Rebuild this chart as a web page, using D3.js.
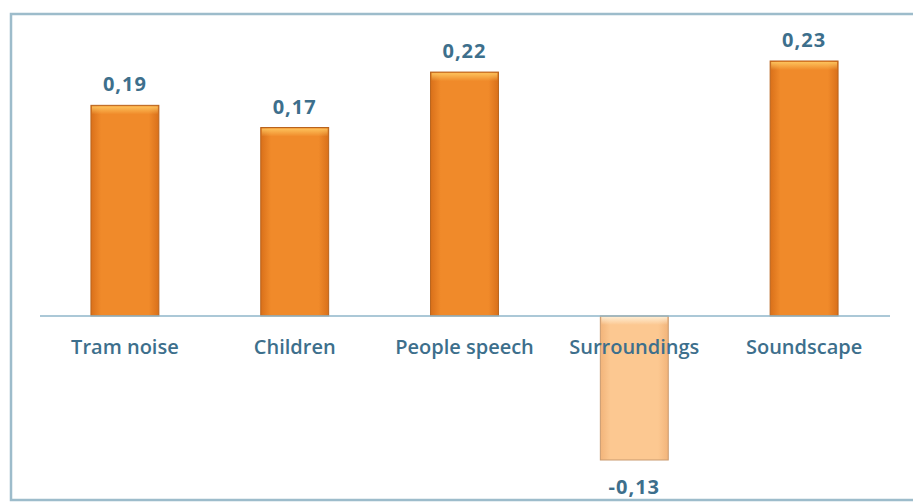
<!DOCTYPE html>
<html><head><meta charset="utf-8">
<script src="https://cdn.jsdelivr.net/npm/d3@7"></script>
<style>body{margin:0;background:#fff;}svg{display:block;}</style>
</head><body>
<svg id="c" width="913" height="502"></svg>
<script>
const categories = ["Tram noise", "Children", "People speech", "Surroundings", "Soundscape"];
const values = [0.19, 0.17, 0.22, -0.13, 0.23];
const valueLabels = ["0,19", "0,17", "0,22", "-0,13", "0,23"];

const svg = d3.select("#c");
const defs = svg.append("defs");
function grad(id, edge, mid) {
  const g = defs.append("linearGradient").attr("id", id).attr("x1", "0").attr("x2", "1").attr("y1", "0").attr("y2", "0");
  g.append("stop").attr("offset", "0%").attr("stop-color", edge);
  g.append("stop").attr("offset", "15%").attr("stop-color", mid);
  g.append("stop").attr("offset", "85%").attr("stop-color", mid);
  g.append("stop").attr("offset", "100%").attr("stop-color", edge);
}
grad("gPos", "#d9701a", "#f08a2a");
grad("gNeg", "#f2b47a", "#fcc891");
function vgrad(id, c) {
  const g = defs.append("linearGradient").attr("id", id).attr("x1", "0").attr("x2", "0").attr("y1", "0").attr("y2", "1");
  g.append("stop").attr("offset", "0%").attr("stop-color", c).attr("stop-opacity", 0.9);
  g.append("stop").attr("offset", "100%").attr("stop-color", c).attr("stop-opacity", 0);
}
vgrad("hPos", "#ffc861");
vgrad("hNeg", "#fff0d8");

// frame
svg.append("rect").attr("x", 11).attr("y", 14).attr("width", 930).attr("height", 486)
  .attr("fill", "none").attr("stroke", "#9dbccb").attr("stroke-width", 2.5);

const x = d3.scaleBand().domain(categories).range([40, 889]).paddingInner(0.6).paddingOuter(0.3);
const y = d3.scaleLinear().domain([-0.13, 0.23]).range([460, 61]);

const g = svg.append("g");
g.selectAll("rect.bar").data(values).join("rect").attr("class", "bar")
  .attr("x", (d, i) => x(categories[i]))
  .attr("width", x.bandwidth())
  .attr("y", d => Math.min(y(d), y(0)))
  .attr("height", d => Math.abs(y(d) - y(0)))
  .attr("fill", d => d < 0 ? "url(#gNeg)" : "url(#gPos)")
  .attr("stroke", d => d < 0 ? "#c99a6e" : "#b8631c")
  .attr("stroke-width", 1);

g.selectAll("rect.hl").data(values).join("rect").attr("class", "hl")
  .attr("x", (d, i) => x(categories[i]) + 1)
  .attr("width", x.bandwidth() - 2)
  .attr("y", d => d < 0 ? y(0) + 1 : y(d) + 1)
  .attr("height", 8)
  .attr("fill", d => d < 0 ? "url(#hNeg)" : "url(#hPos)");

// zero line
svg.append("line").attr("x1", 40).attr("x2", 890).attr("y1", y(0)).attr("y2", y(0))
  .attr("stroke", "#8fb6ca").attr("stroke-width", 1.5);

const font = "'Open Sans', 'Noto Sans', sans-serif";
svg.selectAll("text.cat").data(categories).join("text").attr("class", "cat")
  .attr("x", d => x(d) + x.bandwidth() / 2)
  .attr("y", 354)
  .attr("text-anchor", "middle")
  .attr("font-family", font).attr("font-size", 20).attr("font-weight", 600)
  .attr("fill", "#3d6f8c")
  .text(d => d);

svg.selectAll("text.val").data(values).join("text").attr("class", "val")
  .attr("x", (d, i) => x(categories[i]) + x.bandwidth() / 2)
  .attr("y", d => d < 0 ? y(d) + 34 : y(d) - 14)
  .attr("text-anchor", "middle")
  .attr("font-family", font).attr("font-size", 20).attr("font-weight", 700)
  .attr("letter-spacing", 1)
  .attr("fill", "#3d6f8c")
  .text((d, i) => valueLabels[i]);
</script>
</body></html>
